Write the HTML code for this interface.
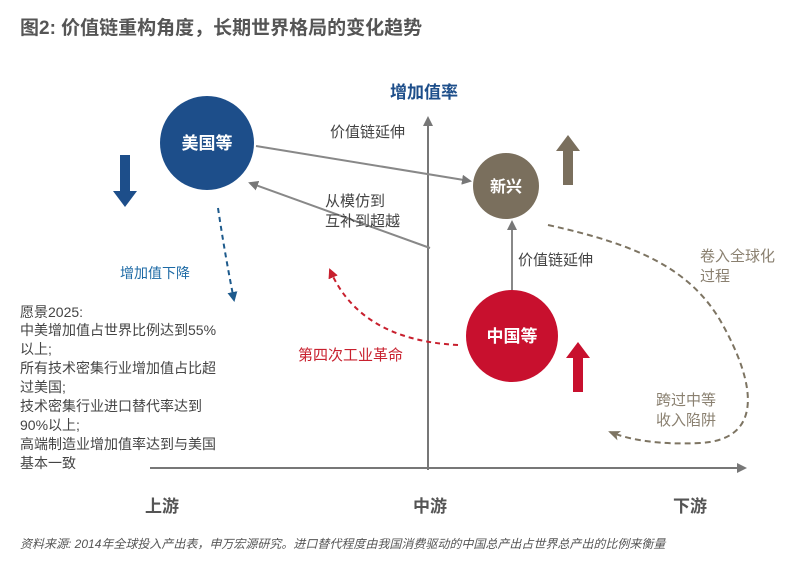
<!DOCTYPE html>
<html><head><meta charset="utf-8"><style>
body{margin:0;background:#fff;}
svg{display:block;font-family:"Liberation Sans","Noto Sans CJK SC",sans-serif;}
</style></head><body>
<svg width="800" height="573" viewBox="0 0 800 573">
<defs>
<marker id="ag" markerWidth="10" markerHeight="10" refX="8" refY="5" orient="auto" markerUnits="userSpaceOnUse"><path d="M0,0 L10,5 L0,10 Z" fill="#777"/></marker>
<marker id="ab" markerWidth="10" markerHeight="10" refX="8" refY="5" orient="auto" markerUnits="userSpaceOnUse"><path d="M0,0 L10,5 L0,10 Z" fill="#1d5a8c"/></marker>
<marker id="ar" markerWidth="10" markerHeight="10" refX="8" refY="5" orient="auto" markerUnits="userSpaceOnUse"><path d="M0,0 L10,5 L0,10 Z" fill="#c8202e"/></marker>
<marker id="an" markerWidth="12" markerHeight="10" refX="10" refY="5" orient="auto" markerUnits="userSpaceOnUse"><path d="M0,0 L12,5 L0,10 L3,5 Z" fill="#7d7462"/></marker>
</defs>
<text x="20" y="34" font-size="19" font-weight="bold" fill="#555">图2: 价值链重构角度，长期世界格局的变化趋势</text>
<line x1="428" y1="470" x2="428" y2="118" stroke="#777" stroke-width="2" marker-end="url(#ag)"/>
<line x1="150" y1="468" x2="745" y2="468" stroke="#777" stroke-width="2" marker-end="url(#ag)"/>
<text x="390" y="98" font-size="17" font-weight="bold" fill="#1d4e8a">增加值率</text>
<line x1="256" y1="146" x2="470" y2="181" stroke="#888" stroke-width="2" marker-end="url(#ag)"/>
<text x="330" y="137" font-size="15" fill="#444">价值链延伸</text>
<line x1="430" y1="248" x2="250" y2="183" stroke="#888" stroke-width="2" marker-end="url(#ag)"/>
<text x="325" y="206" font-size="15" fill="#444">从模仿到</text>
<text x="325" y="226" font-size="15" fill="#444">互补到超越</text>
<line x1="512" y1="290" x2="512" y2="222" stroke="#888" stroke-width="2" marker-end="url(#ag)"/>
<text x="518" y="265" font-size="15" fill="#444">价值链延伸</text>
<circle cx="207" cy="143" r="47" fill="#1d4e8a"/>
<text x="207" y="149" font-size="17" font-weight="bold" fill="#fff" text-anchor="middle">美国等</text>
<circle cx="506" cy="186" r="33" fill="#7a6f5d"/>
<text x="506" y="192" font-size="16" font-weight="bold" fill="#fff" text-anchor="middle">新兴</text>
<circle cx="512" cy="336" r="46" fill="#c8102e"/>
<text x="512" y="342" font-size="17" font-weight="bold" fill="#fff" text-anchor="middle">中国等</text>
<path d="M120,155 h10 v36 h7 l-12,16 l-12,-16 h7 z" fill="#1d4e8a"/>
<path d="M563,185 h10 v-34 h7 l-12,-16 l-12,16 h7 z" fill="#7a6f5d"/>
<path d="M573,392 h10 v-34 h7 l-12,-16 l-12,16 h7 z" fill="#c8102e"/>
<path d="M218,208 Q225,255 234,300" fill="none" stroke="#1d5a8c" stroke-width="2" stroke-dasharray="5,4" marker-end="url(#ab)"/>
<text x="120" y="278" font-size="14" fill="#1d6aa5">增加值下降</text>
<path d="M458,345 Q360,340 330,270" fill="none" stroke="#c8202e" stroke-width="2" stroke-dasharray="5,4" marker-end="url(#ar)"/>
<text x="298" y="360" font-size="15" fill="#c8202e">第四次工业革命</text>
<path d="M548,225 C640,245 690,270 720,320 C760,390 760,440 700,443 C660,445 630,440 610,432" fill="none" stroke="#7d7462" stroke-width="2" stroke-dasharray="6,4" marker-end="url(#an)"/>
<text x="700" y="261" font-size="15" fill="#8a8070">卷入全球化</text>
<text x="700" y="281" font-size="15" fill="#8a8070">过程</text>
<text x="656" y="405" font-size="15" fill="#8a8070">跨过中等</text>
<text x="656" y="425" font-size="15" fill="#8a8070">收入陷阱</text>
<g font-size="14" fill="#444">
<text x="20" y="317">愿景2025:</text>
<text x="20" y="335">中美增加值占世界比例达到55%</text>
<text x="20" y="354">以上;</text>
<text x="20" y="373">所有技术密集行业增加值占比超</text>
<text x="20" y="392">过美国;</text>
<text x="20" y="411">技术密集行业进口替代率达到</text>
<text x="20" y="430">90%以上;</text>
<text x="20" y="449">高端制造业增加值率达到与美国</text>
<text x="20" y="468">基本一致</text>
</g>
<g font-size="17" font-weight="bold" fill="#555" text-anchor="middle">
<text x="162" y="512">上游</text>
<text x="430" y="512">中游</text>
<text x="690" y="512">下游</text>
</g>
<text x="20" y="548" font-size="12" font-style="italic" fill="#555">资料来源: 2014年全球投入产出表，申万宏源研究。进口替代程度由我国消费驱动的中国总产出占世界总产出的比例来衡量</text>
</svg>
</body></html>
